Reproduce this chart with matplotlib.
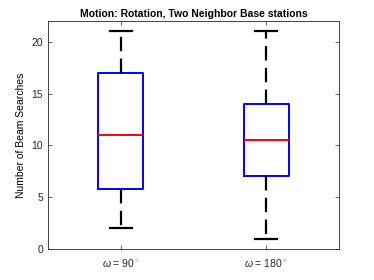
import matplotlib
matplotlib.use('Agg')
import matplotlib.pyplot as plt

plt.rcParams['font.family'] = ['Liberation Sans', 'DejaVu Sans']
plt.rcParams['mathtext.fontset'] = 'custom'
plt.rcParams['mathtext.rm'] = 'Liberation Sans'
plt.rcParams['mathtext.it'] = 'Liberation Sans:italic'

# box statistics
labels = [r'$\omega$ = 90$^\circ$', r'$\omega$ = 180$^\circ$']
whislo = [2, 1]
q1 = [5.75, 7]
med = [11, 10.5]
q3 = [17, 14]
whishi = [21, 21]

stats = []
for i in range(len(labels)):
    stats.append({'label': labels[i], 'whislo': whislo[i], 'q1': q1[i],
                  'med': med[i], 'q3': q3[i], 'whishi': whishi[i], 'fliers': []})

fig = plt.figure(figsize=(3.74, 2.8), dpi=100)
ax = fig.add_axes([0.128, 0.111, 0.778, 0.814])

ax.bxp(stats, positions=[1, 2], widths=0.31, showfliers=False,
       boxprops=dict(color='blue', linewidth=1.4),
       medianprops=dict(color='red', linewidth=1.4),
       whiskerprops=dict(color='black', linewidth=1.6, linestyle=(0, (6.5, 3.3))),
       capprops=dict(color='black', linewidth=1.6),
       capwidths=0.15)

ax.set_xlim(0.5, 2.5)
ax.set_ylim(0, 22)
ax.set_yticks([0, 5, 10, 15, 20])
ax.tick_params(direction='in', length=3, labelsize=7.5, colors='#262626',
               top=True, right=True, width=0.5)
ax.tick_params(axis='x', pad=6)
for s in ax.spines.values():
    s.set_color('#262626')
    s.set_linewidth(0.6)
ax.set_ylabel('Number of Beam Searches', fontsize=7.5)
ax.set_title('Motion: Rotation, Two Neighbor Base stations', fontsize=7.5,
             fontweight='bold', pad=3)

fig.savefig('out.png', dpi=100)
